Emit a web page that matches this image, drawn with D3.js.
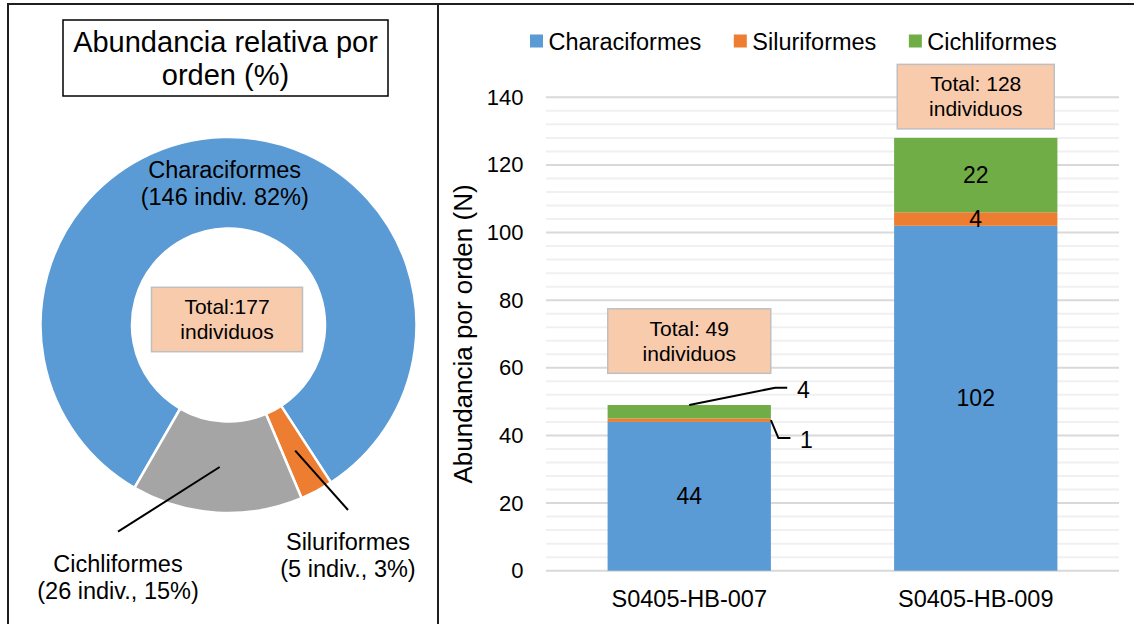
<!DOCTYPE html>
<html>
<head>
<meta charset="utf-8">
<script src="https://cdn.jsdelivr.net/npm/d3@7"></script>
<style>
body {margin: 0; background: #fff}
svg {display: block; font-family: "Liberation Sans", Arial, sans-serif}
</style>
</head>
<body>
<svg width="1134" height="624"></svg>
<script>
'use strict';
// chart values
const orders = ["Characiformes", "Siluriformes", "Cichliformes"]
const barColors = ["#5b9bd5", "#ed7d31", "#70ad47"]
const pieColors = ["#5b9bd5", "#ed7d31", "#a5a5a5"]
const pieCounts = [146, 5, 26]
const pieTotal = 177
const pieLines = [
	["Characiformes", "(146 indiv. 82%)"],
	["Siluriformes", "(5 indiv., 3%)"],
	["Cichliformes", "(26 indiv., 15%)"]]
const sites = ["S0405-HB-007", "S0405-HB-009"]
const charCounts = [44, 102]
const siluCounts = [1, 4]
const cichCounts = [4, 22]
const siteTotals = [49, 128]
const yTicks = [0, 20, 40, 60, 80, 100, 120, 140]

let eSvg = d3.select("svg")

// outer frame of the two panels
eSvg.append("path")
	.attr("d", "M8,626V4H1136M438,4V626")
	.attr("fill", "none").attr("stroke", "#1f1f1f").attr("stroke-width", 2)

// ---------- left panel: doughnut ----------
eSvg.append("rect").attr("x", 63).attr("y", 20).attr("width", 325).attr("height", 76)
	.attr("fill", "#fff").attr("stroke", "#000").attr("stroke-width", 1.5)
eSvg.append("text").attr("x", 225.5).attr("text-anchor", "middle").attr("font-size", 29)
	.selectAll("tspan").data(["Abundancia relativa por", "orden (%)"]).enter()
	.append("tspan").attr("x", 225.5).attr("y", (d, i) => 52 + i * 33).text(d => d)

let pCx = 228.5, pCy = 325, pOuter = 188, pInner = 96.5
let pie = d3.pie().sort(null)
	.startAngle(210 * Math.PI / 180).endAngle(570 * Math.PI / 180)
let aSlices = pie(pieCounts)
let arc = d3.arc().innerRadius(pInner).outerRadius(pOuter)
let gPie = eSvg.append("g").attr("transform", `translate(${pCx},${pCy})`)

gPie.selectAll("path.slice").data(aSlices).enter()
	.append("path").attr("class", "slice")
	.attr("d", arc)
	.attr("fill", (d, i) => pieColors[i])
	.attr("stroke", "#fff").attr("stroke-width", 2.5)

// label anchors (first baseline, relative to centre); null = sits on its own slice
let pieLabelAt = [null, [119.5, 225], [-110.5, 246.7]]

aSlices.forEach((d, i) => {
	let c = arc.centroid(d)
	let at = pieLabelAt[i] || [c[0], c[1] - 5]
	if (pieLabelAt[i]) {
		gPie.append("line")
			.attr("x1", c[0]).attr("y1", c[1])
			.attr("x2", at[0]).attr("y2", at[1] - 40)
			.attr("stroke", "#000").attr("stroke-width", 2)
	}
	gPie.append("text").attr("text-anchor", "middle").attr("font-size", 23.5)
		.selectAll("tspan").data(pieLines[i]).enter()
		.append("tspan").attr("x", at[0]).attr("y", (t, j) => at[1] + j * 27).text(t => t)
})

// total box in the hole
function totalBox(g, cx, top, w, h, lines) {
	g.append("rect").attr("x", cx - w / 2).attr("y", top).attr("width", w).attr("height", h)
		.attr("fill", "#f8cbad").attr("stroke", "#bfbfbf").attr("stroke-width", 1.5)
	g.append("text").attr("text-anchor", "middle").attr("font-size", 21)
		.selectAll("tspan").data(lines).enter()
		.append("tspan").attr("x", cx).attr("y", (t, j) => top + 27 + j * 25).text(t => t)
}
totalBox(gPie, -1.5, -37.7, 151, 64.4, ["Total:" + pieTotal, "individuos"])

// ---------- right panel: stacked bars ----------
let pLeft = 546, pRight = 1119, pTop = 97.3, pBottom = 570.7
let x = d3.scaleBand().domain(sites).range([pLeft, pRight]).paddingInner(0.43).paddingOuter(0.215)
let y = d3.scaleLinear().domain([0, 140]).range([pBottom, pTop])

// gridlines: minor every 4, major every 20
let gGrid = eSvg.append("g")
gGrid.selectAll("line.minor").data(d3.range(0, 141, 4).filter(v => v % 20)).enter()
	.append("line").attr("class", "minor")
	.attr("x1", pLeft).attr("x2", pRight).attr("y1", d => y(d)).attr("y2", d => y(d))
	.attr("stroke", "#f0f0f0").attr("stroke-width", 2)
gGrid.selectAll("line.major").data(yTicks).enter()
	.append("line").attr("class", "major")
	.attr("x1", pLeft).attr("x2", pRight).attr("y1", d => y(d)).attr("y2", d => y(d))
	.attr("stroke", "#d9d9d9").attr("stroke-width", 2)

let yAxis = eSvg.append("g").attr("transform", `translate(${pLeft},0)`)
	.call(d3.axisLeft(y).tickValues(yTicks).tickSize(0).tickPadding(22.5))
yAxis.select(".domain").remove()
yAxis.selectAll("text").attr("font-size", 22).attr("font-family", null).attr("fill", "#000")

let xAxis = eSvg.append("g").attr("transform", `translate(0,${pBottom})`)
	.call(d3.axisBottom(x).tickSize(0).tickPadding(20))
xAxis.select(".domain").remove()
xAxis.selectAll("text").attr("font-size", 23.5).attr("font-family", null).attr("fill", "#000")

eSvg.append("text")
	.attr("transform", `translate(472,${(pTop + pBottom) / 2}) rotate(-90)`)
	.attr("text-anchor", "middle").attr("font-size", 26)
	.text("Abundancia por orden (N)")

// stacked bars
let tRows = sites.map((s, i) => ({
	site: s, Characiformes: charCounts[i], Siluriformes: siluCounts[i], Cichliformes: cichCounts[i]}))
let aSeries = d3.stack().keys(orders)(tRows)

let gBars = eSvg.append("g")
aSeries.forEach((ser, k) => {
	gBars.selectAll(null).data(ser).enter()
		.append("rect")
		.attr("x", d => x(d.data.site))
		.attr("width", x.bandwidth())
		.attr("y", d => y(d[1]))
		.attr("height", d => y(d[0]) - y(d[1]))
		.attr("fill", barColors[k])
})

// value labels inside the segments (site 0 thin ones go outside)
let bw = x.bandwidth()
aSeries.forEach((ser, k) => {
	ser.forEach((d, i) => {
		if (i === 0 && k > 0) return
		eSvg.append("text")
			.attr("x", x(d.data.site) + bw / 2)
			.attr("y", y((d[0] + d[1]) / 2))
			.attr("dy", "0.35em").attr("text-anchor", "middle").attr("font-size", 23)
			.text(d[1] - d[0])
	})
})

// elbow callouts for site 0
let s0Right = x(sites[0]) + bw
let greenTop = y(charCounts[0] + siluCounts[0] + cichCounts[0])
let orangeMid = y(charCounts[0] + siluCounts[0] / 2)
eSvg.append("path")
	.attr("d", `M${x(sites[0]) + bw / 2},${greenTop}L${s0Right + 4.3},${greenTop - 17.3}H${s0Right + 16.3}`
		+ `M${s0Right},${orangeMid}L${s0Right + 7.5},${orangeMid + 17.8}H${s0Right + 19.5}`)
	.attr("fill", "none").attr("stroke", "#000").attr("stroke-width", 2)
eSvg.append("text").attr("x", s0Right + 26).attr("y", greenTop - 15.3).attr("dy", "0.35em")
	.attr("font-size", 23).text(cichCounts[0])
eSvg.append("text").attr("x", s0Right + 29).attr("y", orangeMid + 19.8).attr("dy", "0.35em")
	.attr("font-size", 23).text(siluCounts[0])

// total boxes above bars
let boxGap = [31.7, 9], boxW = [163, 157]
sites.forEach((s, i) => {
	let top = y(siteTotals[i]) - boxGap[i] - 64.5
	totalBox(eSvg, x(s) + bw / 2, top, boxW[i], 64.5, ["Total: " + siteTotals[i], "individuos"])
})

// legend
let gLeg = eSvg.append("g")
let lx = 530
orders.forEach((o, i) => {
	gLeg.append("rect").attr("x", lx).attr("y", 34.5).attr("width", 13).attr("height", 13)
		.attr("fill", barColors[i])
	let t = gLeg.append("text").attr("x", lx + 18.5).attr("y", 50).attr("font-size", 23.5).text(o)
	lx += 18.5 + t.node().getComputedTextLength() + 32.5
})
</script>
</body>
</html>
